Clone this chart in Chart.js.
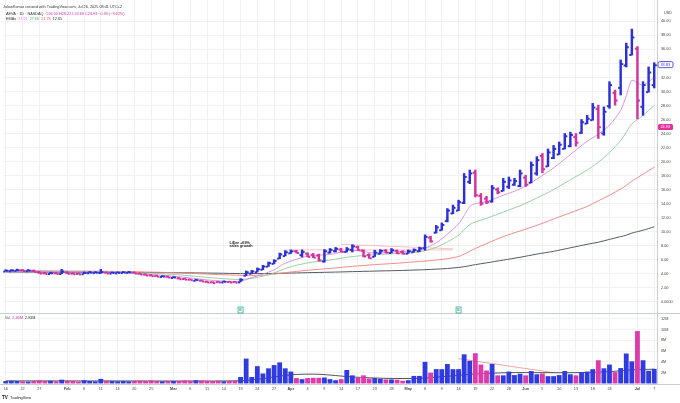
<!DOCTYPE html>
<html>
<head>
<meta charset="utf-8">
<script src="https://cdn.jsdelivr.net/npm/chart.js@4.4.1/dist/chart.umd.min.js"></script>
<style>
  html, body { margin: 0; padding: 0; background: #fff; }
  #wrap { position: relative; width: 680px; height: 403px; }
</style>
</head>
<body>
<div id="wrap"><canvas id="myChart"></canvas></div>
<script>
// trading days, Jan 16 - Jul 7 2025
const dates = [
  'Jan 16','Jan 17','Jan 21','Jan 22','Jan 23','Jan 24','Jan 27','Jan 28','Jan 29','Jan 30','Jan 31',
  'Feb 3','Feb 4','Feb 5','Feb 6','Feb 7','Feb 10','Feb 11','Feb 12','Feb 13','Feb 14','Feb 18','Feb 19','Feb 20','Feb 21','Feb 24','Feb 25','Feb 26','Feb 27','Feb 28',
  'Mar 3','Mar 4','Mar 5','Mar 6','Mar 7','Mar 10','Mar 11','Mar 12','Mar 13','Mar 14','Mar 17','Mar 18','Mar 19','Mar 20','Mar 21','Mar 24','Mar 25','Mar 26','Mar 27','Mar 28','Mar 31',
  'Apr 1','Apr 2','Apr 3','Apr 4','Apr 7','Apr 8','Apr 9','Apr 10','Apr 11','Apr 14','Apr 15','Apr 16','Apr 17','Apr 21','Apr 22','Apr 23','Apr 24','Apr 25','Apr 28','Apr 29','Apr 30',
  'May 1','May 2','May 5','May 6','May 7','May 8','May 9','May 12','May 13','May 14','May 15','May 16','May 19','May 20','May 21','May 22','May 23','May 27','May 28','May 29','May 30',
  'Jun 2','Jun 3','Jun 4','Jun 5','Jun 6','Jun 9','Jun 10','Jun 11','Jun 12','Jun 13','Jun 16','Jun 17','Jun 18','Jun 20','Jun 23','Jun 24','Jun 25','Jun 26','Jun 27','Jun 30',
  'Jul 1','Jul 2','Jul 3','Jul 7'
];

const opens = [
  4.40,4.45,4.50,4.58,4.45,4.50,4.30,4.14,4.05,4.15,4.05,
  4.25,4.10,4.06,4.02,4.15,4.18,4.20,4.25,4.12,4.15,4.18,4.20,4.24,4.10,3.98,3.86,3.76,3.62,3.66,
  3.48,3.44,3.34,3.24,3.08,3.10,2.94,2.86,2.90,2.84,2.92,2.88,2.86,3.80,4.10,4.30,4.65,5.10,5.50,6.25,6.60,
  7.00,7.30,6.75,6.95,6.80,6.70,5.85,7.10,7.30,7.55,7.20,7.50,7.90,7.40,6.75,6.50,6.95,7.40,7.05,7.35,7.20,
  6.95,7.15,7.30,7.75,9.25,9.95,10.30,11.60,12.70,13.10,14.20,17.20,18.50,15.20,14.80,14.40,16.10,15.90,16.50,16.80,16.60,
  17.80,17.10,18.40,20.90,19.40,20.60,21.10,21.90,22.30,23.60,24.20,25.50,26.00,27.60,24.10,28.00,29.90,30.60,33.80,35.30,
  36.20,27.90,30.00,31.00
];
const highs = [
  4.58,4.60,4.66,4.62,4.60,4.55,4.34,4.20,4.22,4.18,4.62,
  4.30,4.14,4.10,4.26,4.32,4.30,4.62,4.28,4.26,4.28,4.32,4.34,4.26,4.12,4.00,3.90,3.80,3.74,3.68,
  3.60,3.46,3.38,3.26,3.22,3.12,2.96,2.88,2.94,2.98,2.94,2.90,3.30,4.40,4.48,4.82,5.20,5.68,6.00,6.95,7.30,
  7.40,7.35,7.40,7.00,6.90,6.80,7.45,7.60,7.75,7.62,7.75,8.15,7.95,7.42,6.85,7.35,7.45,7.45,7.60,7.40,7.30,
  7.40,7.55,7.80,9.55,9.35,10.90,11.25,13.30,13.80,14.50,18.30,18.80,18.80,15.45,15.05,16.60,16.25,17.60,17.80,17.60,18.80,
  18.05,19.95,20.70,21.15,21.80,22.30,22.80,24.00,24.20,24.00,26.00,26.60,28.30,28.05,27.80,31.40,30.20,34.50,36.90,38.90,
  36.40,31.40,33.50,34.10
];
const lows = [
  4.36,4.40,4.44,4.42,4.40,4.30,4.05,4.00,4.02,4.00,4.00,
  4.02,3.96,3.95,4.00,4.12,4.14,4.05,4.08,4.10,4.12,4.15,4.16,4.08,3.94,3.80,3.70,3.64,3.58,3.50,
  3.44,3.26,3.22,3.12,3.06,2.96,2.80,2.72,2.80,2.82,2.80,2.78,2.84,3.74,4.00,4.24,4.58,5.04,5.42,6.15,6.55,
  6.90,6.95,6.40,6.40,6.30,5.80,5.65,6.95,7.10,7.10,7.10,7.10,7.35,6.40,6.20,6.45,6.85,6.95,6.95,6.85,6.80,
  6.90,7.10,7.15,7.35,8.50,9.80,10.20,11.40,12.55,13.00,14.00,16.85,14.95,13.75,14.00,14.20,15.40,15.80,16.15,16.60,16.40,
  16.45,16.95,18.05,18.40,19.30,20.40,21.00,21.80,22.10,22.20,24.00,25.40,25.90,23.30,23.75,27.60,28.05,29.50,33.50,35.20,
  26.10,26.60,29.90,30.50
];
const closes = [
  4.52,4.55,4.60,4.47,4.54,4.36,4.12,4.06,4.16,4.05,4.40,
  4.08,4.03,4.00,4.20,4.25,4.24,4.32,4.12,4.20,4.22,4.26,4.27,4.12,3.98,3.84,3.74,3.68,3.70,3.54,
  3.56,3.30,3.26,3.16,3.18,3.00,2.84,2.76,2.84,2.94,2.84,2.82,3.24,4.30,4.42,4.74,5.12,5.60,5.92,6.85,7.15,
  7.30,7.05,7.20,6.50,6.40,6.00,7.30,7.50,7.65,7.20,7.60,8.00,7.45,6.55,6.30,7.10,7.35,7.10,7.45,7.00,6.95,
  7.30,7.50,7.70,9.35,8.70,10.70,11.05,13.10,13.50,14.30,17.90,18.40,15.30,14.10,14.30,16.30,15.70,17.20,17.40,17.30,18.40,
  16.80,19.60,20.30,19.00,21.40,21.90,22.50,23.70,23.90,22.80,25.70,26.20,27.80,25.00,27.20,31.00,28.80,34.00,36.40,37.80,
  28.80,31.00,32.80,33.83
];
// volume in millions
const volumes = [
  0.45,0.50,0.45,0.40,0.35,0.45,0.55,0.45,0.50,0.40,0.70,
  0.50,0.45,0.35,0.60,0.45,0.40,0.85,0.50,0.45,0.40,0.45,0.40,0.45,0.50,0.45,0.55,0.45,0.40,0.50,
  0.45,0.50,0.55,0.50,0.60,0.55,0.50,0.45,0.50,0.40,0.45,0.50,1.20,4.60,1.20,3.20,1.85,2.80,3.40,3.90,2.80,
  2.20,1.00,0.80,1.00,1.05,1.05,1.10,0.80,0.60,0.80,2.50,1.50,1.05,1.50,0.90,1.00,0.85,0.75,0.75,0.70,0.50,
  0.60,1.40,1.40,4.00,2.00,2.65,2.65,3.60,2.65,2.65,5.40,4.20,5.60,3.50,2.40,3.60,1.50,1.50,2.20,1.55,1.80,
  1.50,2.30,1.70,1.85,1.35,1.35,1.55,2.30,1.70,1.50,2.10,2.20,2.65,4.30,2.80,3.50,2.10,2.85,5.55,4.10,
  9.70,4.30,2.35,2.70
];

// moving averages at these bar positions
const emaIdx = [0,10,20,30,38,42,44,46,48,50,54,58,62,66,70,74,75,77,79,81,82,83,84,86,89,92,95,98,101,104,106,108,110,111,112,113,114,115,116];
const emaFast = [4.45,4.30,4.22,3.65,2.98,2.95,3.45,3.95,4.55,5.50,6.50,6.75,7.35,6.95,7.15,7.30,7.65,8.40,9.65,11.1,12.3,13.6,14.0,14.3,15.2,16.1,17.5,19.1,21.0,22.9,23.9,25.2,27.3,29.4,31.6,31.2,30.9,31.4,32.0];
const emaMid = [4.45,4.36,4.28,3.90,3.35,3.18,3.35,3.65,4.10,4.75,5.55,5.95,6.45,6.70,6.90,7.10,7.30,7.76,8.55,9.50,10.3,11.0,11.4,11.9,12.8,13.7,14.8,16.0,17.4,18.8,19.9,21.3,23.0,24.2,25.4,26.0,26.6,27.3,28.0];
const emaSlow = [4.42,4.38,4.33,4.15,3.88,3.78,3.76,3.80,3.95,4.15,4.50,4.75,5.05,5.30,5.50,5.75,5.80,5.95,6.15,6.45,6.80,7.20,7.60,8.30,9.30,10.1,10.9,11.8,12.7,13.6,14.4,15.2,16.1,16.6,17.2,17.7,18.2,18.7,19.2];
const emaLong = [4.25,4.22,4.20,4.15,4.08,4.02,4.02,4.03,4.05,4.08,4.15,4.22,4.30,4.38,4.45,4.55,4.58,4.65,4.75,4.90,5.00,5.15,5.30,5.55,5.95,6.35,6.80,7.20,7.70,8.20,8.50,8.90,9.30,9.50,9.80,10.0,10.2,10.45,10.7];

const volMaIdx = [0,20,42,46,51,56,62,68,74,78,84,90,96,102,108,112,116];
const volMa = [0.48,0.47,0.50,0.90,1.60,1.70,1.20,0.95,0.95,1.25,1.75,2.00,2.00,2.00,2.20,2.50,2.65];

// drawn trend lines
const volTrendIdx = [81, 98];
const volTrend = [4.6, 2.0];
const rangeTopIdx = [60, 80];
const rangeTop = [8.2, 7.55];
const rangeLowIdx = [50, 80];
const rangeLow = [7.4, 7.4];

const axisTicks = ['Jan 16','Jan 22','Jan 27','Feb 3','Feb 6','Feb 11','Feb 14','Feb 20','Feb 25','Mar 3','Mar 6','Mar 11','Mar 14','Mar 19','Mar 24','Mar 27','Apr 1','Apr 4','Apr 9','Apr 14','Apr 17','Apr 23','Apr 28','May 1','May 6','May 9','May 14','May 19','May 22','May 28','Jun 2','Jun 5','Jun 10','Jun 13','Jun 18','Jun 24','Jul 1','Jul 7'];
const axisText = ['16','22','27','Feb','6','11','14','20','25','Mar','6','11','14','19','24','27','Apr','4','9','14','17','23','28','May','6','9','14','19','22','28','Jun','5','10','13','18','24','Jul','7'];
const priceTicks = [0,2,4,6,8,10,12,14,16,18,20,22,24,26,28,30,32,34,36,38,40];
const volTicks = [2,4,6,8,10,12];
const earningsDates = ['Mar 19', 'May 14'];

const UP = '#2c30d6';
const DOWN = '#d4329f';
const VOL_UP = '#2f3ae0';
const VOL_DOWN = '#dd3aab';
const GRID = '#eff1f5';
const FONT = "'Liberation Sans', Arial, sans-serif";
const TXT = 3.8;

Chart.defaults.font.family = FONT;

const barColors = closes.map((c, i) => c >= opens[i] ? UP : DOWN);
const volColors = closes.map((c, i) => c >= opens[i] ? VOL_UP : VOL_DOWN);
const pts = (idx, vals) => idx.map((k, i) => ({ x: dates[k], y: vals[i] }));

function lineSet(data, color, axis, width) {
  return {
    type: 'line', data: data, yAxisID: axis, borderColor: color, borderWidth: width,
    pointRadius: 0, tension: 0.3, fill: false, order: 5
  };
}

// writes runs of coloured text in a row
function runs(ctx, x, y, parts) {
  for (const p of parts) {
    ctx.font = (p[2] ? 'bold ' : '') + TXT + 'px ' + FONT;
    ctx.fillStyle = p[1];
    ctx.fillText(p[0], x, y);
    x += ctx.measureText(p[0]).width + 2;
  }
}

// keep the panes flush with the canvas edges
function noPad(s) {
  s.paddingTop = 0;
  s.paddingBottom = 0;
}

const overlay = {
  id: 'overlay',
  afterDraw(chart) {
    const { ctx, scales: { x, y, yVol } } = chart;
    ctx.save();
    ctx.textBaseline = 'middle';

    // pane separator and bottom line
    ctx.strokeStyle = '#c9ccd3';
    ctx.lineWidth = 1;
    ctx.beginPath();
    ctx.moveTo(0, Math.round(yVol.top) + 0.5);
    ctx.lineTo(chart.width, Math.round(yVol.top) + 0.5);
    ctx.moveTo(0, Math.round(yVol.bottom) + 0.5);
    ctx.lineTo(chart.width, Math.round(yVol.bottom) + 0.5);
    ctx.stroke();

    // header
    runs(ctx, 3, 7, [['JulianKomar created with TradingView.com, Jul 26, 2025 08:41 UTC+2', '#333']]);
    runs(ctx, 6, 13.5, [['AEVA · 1D · NASDAQ', '#333'], ['O26.50 H28.22 L23.69 C24.93 −0.93 (−3.62%)', DOWN]]);
    runs(ctx, 6, 19, [['EMAs', '#333'], ['27.51', '#c77ad8'], ['27.66', '#5fae6a'], ['21.78', '#e8615f'], ['12.65', '#333']]);
    runs(ctx, 5, yVol.top + 5, [['Vol', '#666'], ['2.36M', DOWN], ['2.93M', '#333']]);

    // note
    const nx = x.getPixelForValue(40);
    ctx.font = 'bold ' + TXT + 'px ' + FONT;
    ctx.fillStyle = '#222';
    ctx.fillText('LiDar +69%', nx, y.getPixelForValue(8.45));
    ctx.fillText('sales growth', nx, y.getPixelForValue(7.92));

    // earnings markers
    for (const d of earningsDates) {
      const ex = x.getPixelForValue(dates.indexOf(d));
      const ey = yVol.top - 3;
      ctx.fillStyle = '#fff';
      ctx.strokeStyle = '#2ea89c';
      ctx.lineWidth = 0.8;
      ctx.fillRect(ex - 2.5, ey - 3, 5, 6);
      ctx.strokeRect(ex - 2.5, ey - 3, 5, 6);
      ctx.fillStyle = '#2ea89c';
      ctx.font = 'bold 4px ' + FONT;
      ctx.textAlign = 'center';
      ctx.fillText('E', ex, ey + 0.3);
      ctx.textAlign = 'left';
    }

    // price axis labels
    const ax = y.left + 1;
    ctx.font = TXT + 'px ' + FONT;
    ctx.fillStyle = '#444';
    ctx.fillText('USD', ax + 6, 13);
    const lastY = y.getPixelForValue(closes[closes.length - 1]);
    ctx.fillStyle = '#fff';
    ctx.strokeStyle = UP;
    ctx.lineWidth = 0.8;
    ctx.beginPath();
    ctx.roundRect(ax, lastY - 3, 15, 6, 1.5);
    ctx.fill();
    ctx.stroke();
    ctx.fillStyle = UP;
    ctx.fillText('33.83', ax + 2.5, lastY + 0.2);
    const magY = y.getPixelForValue(24.93);
    ctx.fillStyle = '#e2319c';
    ctx.beginPath();
    ctx.roundRect(ax, magY - 3, 15, 6, 1.5);
    ctx.fill();
    ctx.fillStyle = '#fff';
    ctx.fillText('24.93', ax + 2.5, magY + 0.2);

    // logo
    ctx.fillStyle = '#131722';
    ctx.font = 'bold 4.6px ' + FONT;
    ctx.fillText('TV', 2, 398);
    ctx.font = TXT + 'px ' + FONT;
    ctx.fillText('TradingView', 10, 398);
    ctx.restore();
  }
};

new Chart(document.getElementById('myChart'), {
  type: 'bar',
  data: {
    labels: dates,
    datasets: [
      { data: opens.map(o => [o, o]), backgroundColor: barColors, stack: 'o', barThickness: 1.5, minBarLength: 1.3, order: 1 },
      { data: lows.map((l, i) => [l, highs[i]]), backgroundColor: barColors, stack: 'hl', barThickness: 1.8, order: 1 },
      { data: closes.map(c => [c, c]), backgroundColor: barColors, stack: 'c', barThickness: 1.5, minBarLength: 1.3, order: 1 },
      { data: volumes, yAxisID: 'yVol', backgroundColor: volColors, grouped: false, categoryPercentage: 1, barPercentage: 0.86, order: 2 },
      lineSet(pts(emaIdx, emaFast), '#cf8ddc', 'y', 0.9),
      lineSet(pts(emaIdx, emaMid), '#8fcc97', 'y', 0.9),
      lineSet(pts(emaIdx, emaSlow), '#f0807c', 'y', 0.9),
      lineSet(pts(emaIdx, emaLong), '#555a60', 'y', 1),
      lineSet(pts(volMaIdx, volMa), '#2a2a2a', 'yVol', 0.8),
      lineSet(pts(volTrendIdx, volTrend), '#f08a8a', 'yVol', 0.8),
      lineSet(pts(rangeTopIdx, rangeTop), 'rgba(240,130,140,0.6)', 'y', 0.8),
      lineSet(pts(rangeLowIdx, rangeLow), 'rgba(240,130,140,0.6)', 'y', 0.8)
    ]
  },
  options: {
    responsive: true,
    maintainAspectRatio: false,
    animation: false,
    layout: { padding: { left: 3, right: 0, top: 0, bottom: 0 } },
    plugins: { legend: { display: false }, tooltip: { enabled: false } },
    scales: {
      x: {
        type: 'category',
        offset: true,
        grid: { offset: false, color: GRID, drawTicks: false },
        border: { display: false },
        afterBuildTicks: s => { s.ticks = axisTicks.map(d => ({ value: dates.indexOf(d) })); },
        ticks: {
          autoSkip: false, maxRotation: 0, padding: 3, color: '#444',
          font: c => ({ size: TXT, weight: /^[A-Z]/.test(c.tick.label) ? 'bold' : 'normal' }),
          callback: v => axisText[axisTicks.indexOf(dates[v])]
        },
        afterFit: s => { s.height = 19; }
      },
      y: {
        position: 'right', stack: 'pane', stackWeight: 313,
        min: -1.6, max: 43.05,
        grid: { color: GRID, drawTicks: false },
        border: { color: '#c9ccd3' },
        afterBuildTicks: s => { s.ticks = priceTicks.map(v => ({ value: v })); },
        ticks: { autoSkip: false, padding: 4, color: '#444', font: { size: TXT }, callback: v => v === 0 ? '0.0000' : v.toFixed(2) },
        afterFit: s => { s.width = 23; noPad(s); }
      },
      yVol: {
        position: 'right', stack: 'pane', stackWeight: 71,
        min: -0.1, max: 13.05,
        grid: { color: GRID, drawTicks: false },
        border: { color: '#c9ccd3' },
        afterBuildTicks: s => { s.ticks = volTicks.map(v => ({ value: v })); },
        ticks: { autoSkip: false, padding: 4, color: '#444', font: { size: TXT }, callback: v => v + 'M' },
        afterFit: s => { s.width = 23; noPad(s); }
      }
    }
  },
  plugins: [overlay]
});
</script>
</body>
</html>
